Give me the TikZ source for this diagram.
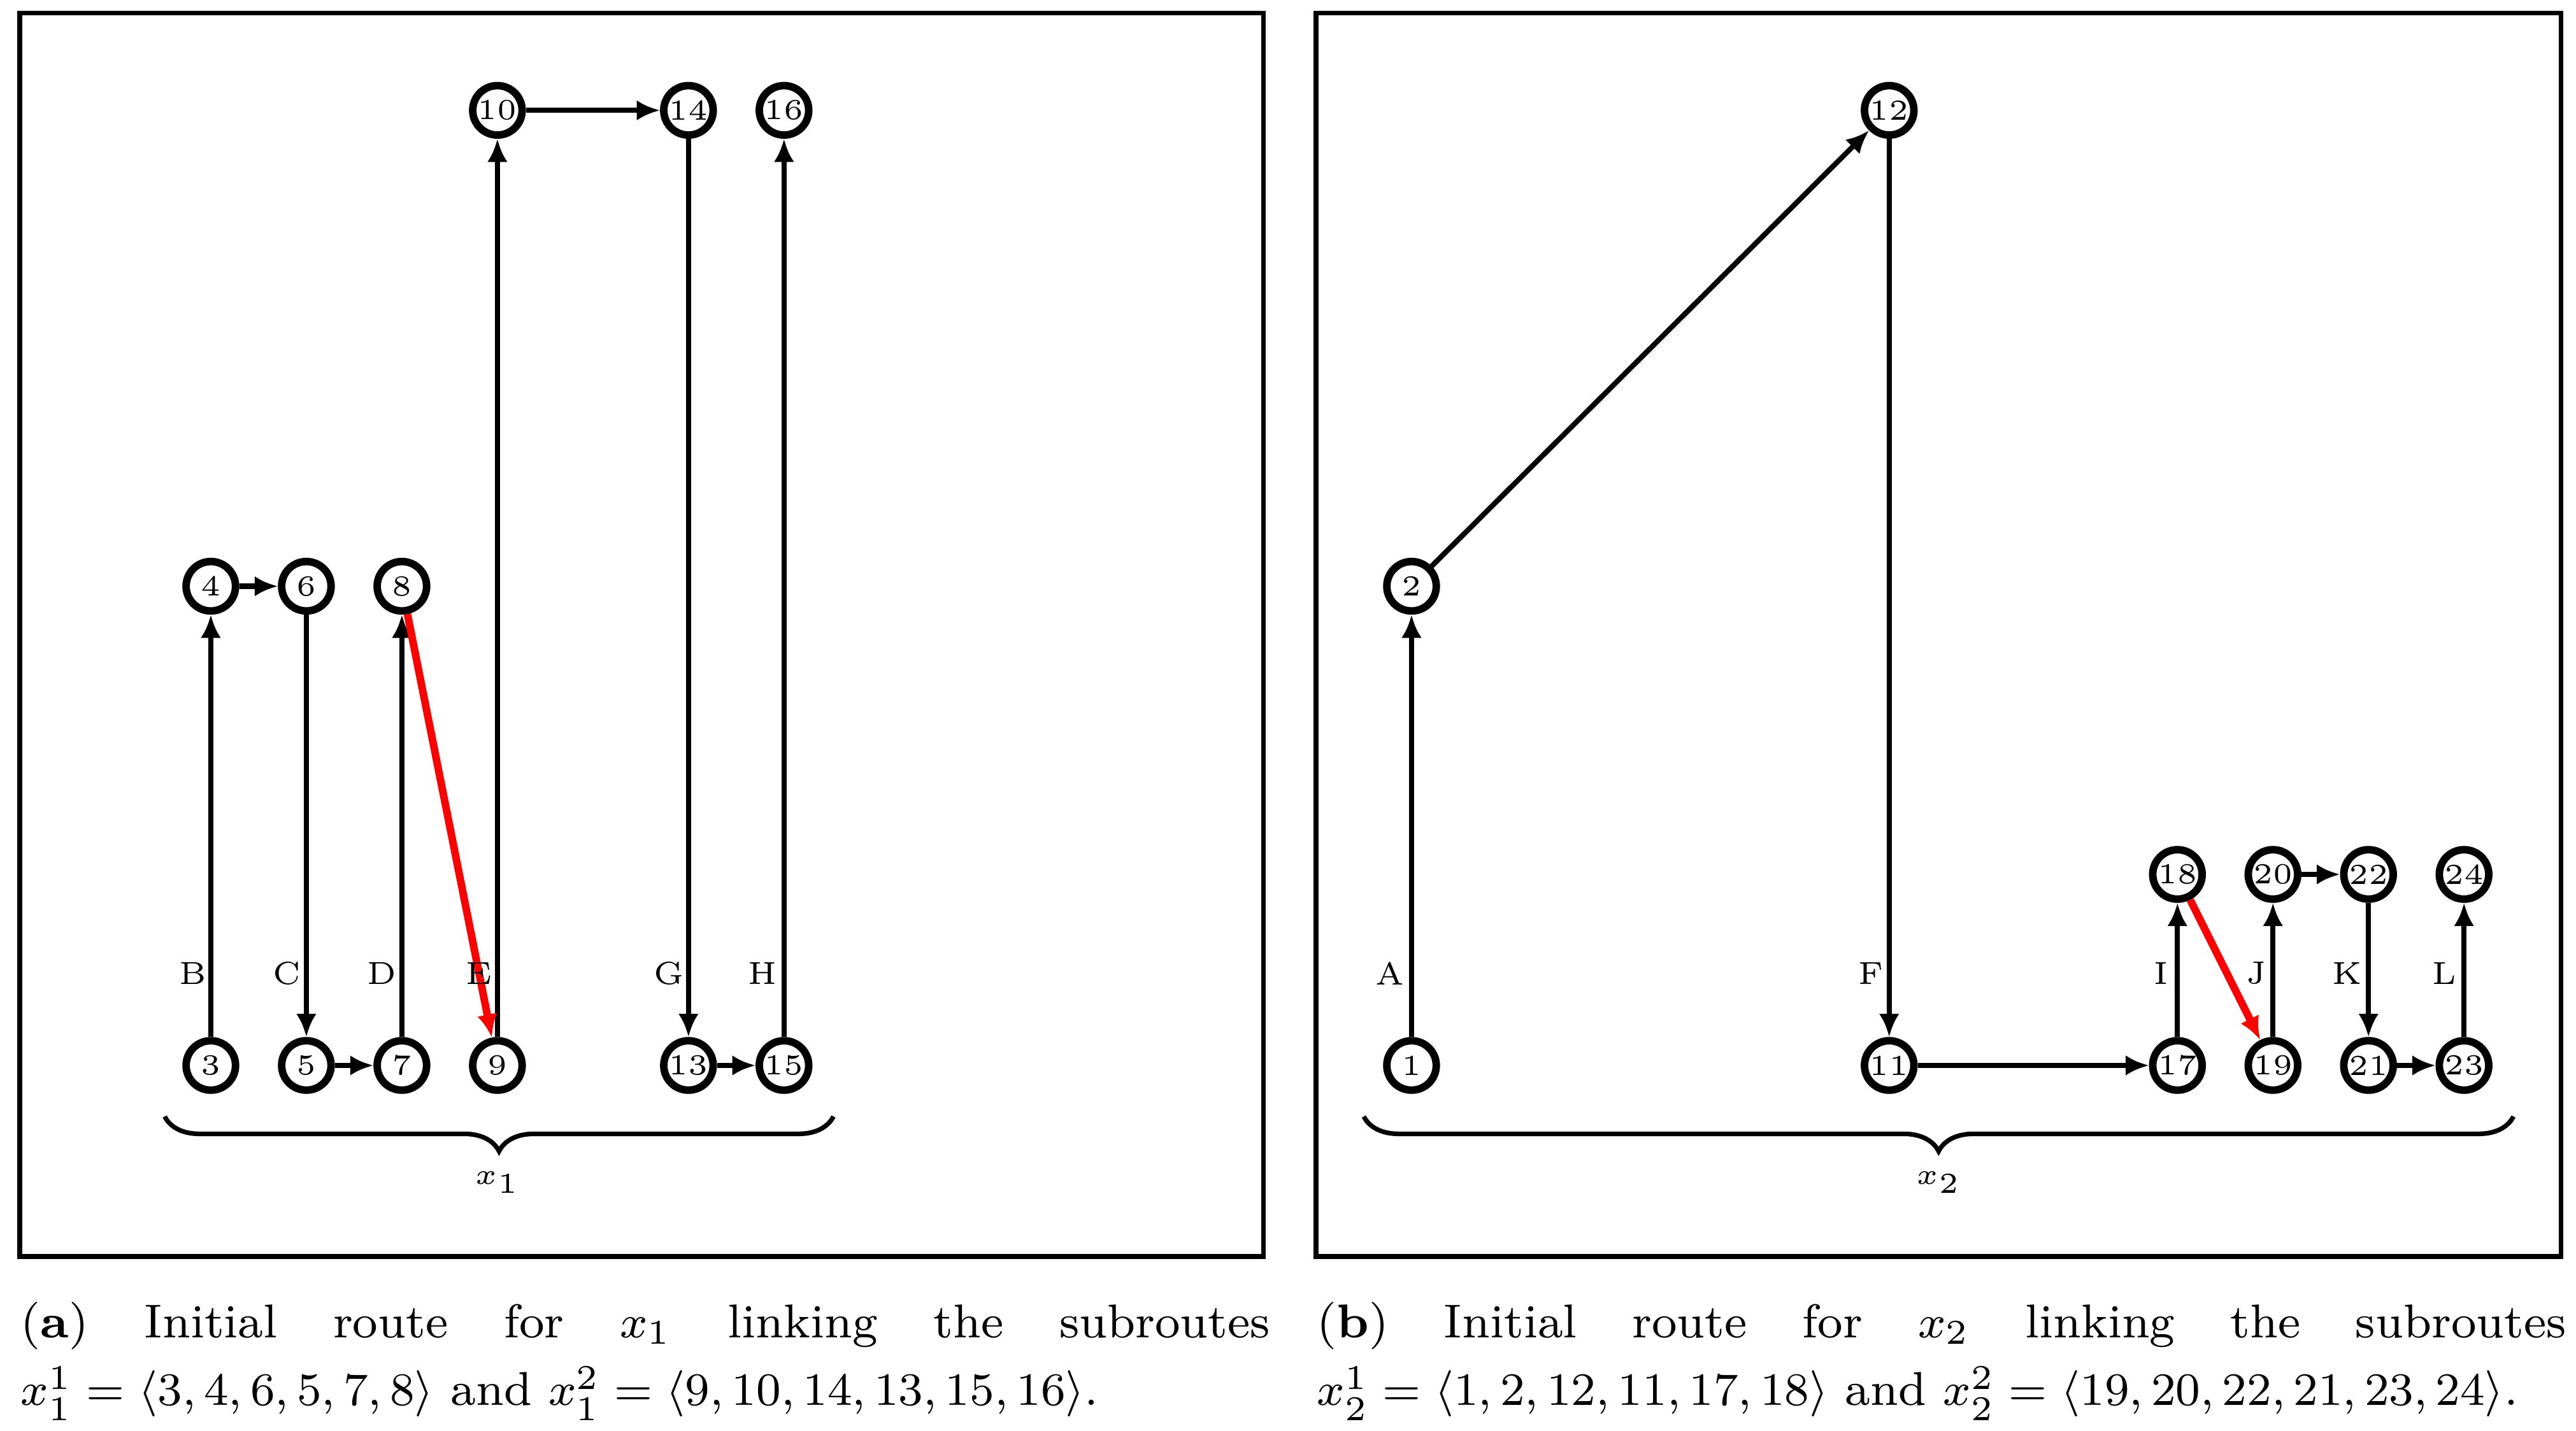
\documentclass[tikz,border=0pt]{standalone}
\usetikzlibrary{arrows.meta,decorations.pathreplacing}
\begin{document}
\begin{tikzpicture}[x=0.01cm,y=-0.01cm,
  v/.style={circle,draw,line width=1.3pt,minimum size=0.3cm,inner sep=0pt,font=\fontsize{5}{6}\selectfont,fill=white},
  e/.style={line width=0.9pt,-{Latex[length=4pt,width=3.5pt]}},
  r/.style={e,red,line width=1.3pt},
  lab/.style={font=\fontsize{5.5}{6}\selectfont},
  box/.style={draw,line width=0.8pt},
  br/.style={decorate,decoration={brace,mirror,amplitude=6pt},line width=0.8pt},
  captxt/.style={text width=7.58cm,align=justify,inner sep=0pt,anchor=north west,font=\fontsize{8.2}{11.7}\selectfont}]
\useasboundingbox (0,0) rectangle (1564,869);
\draw[box] (12,8) rectangle (767,763);
\draw[box] (799,8) rectangle (1555,763);
% left
\foreach \n/\x/\y in {3/128/647,4/128/356,6/186/356,5/186/647,7/244/647,8/244/356,9/302/647,10/302/67,14/418/67,13/418/647,15/476/647,16/476/67}
  \node[v] (n\n) at (\x,\y) {\n};
\foreach \a/\b in {3/4,4/6,6/5,5/7,7/8,9/10,10/14,14/13,13/15,15/16}
  \draw[e] (n\a) -- (n\b);
\draw[r] (n8) -- (n9);
\foreach \t/\x in {B/117,C/174,D/232,E/291,G/406,H/463}
  \node[lab] (l\t) at (\x,591) {\t};
\coordinate (b1s) at (100,678); \coordinate (b1e) at (506,678);
\draw[br] (b1s) -- (b1e);
\node[lab] (x1) at (302,718) {$x_1$};
% right
\foreach \n/\x/\y in {1/857/647,2/857/356,12/1147/67,11/1147/647,17/1322/647,18/1322/531,19/1380/647,20/1380/531,22/1438/531,21/1438/647,23/1496/647,24/1496/531}
  \node[v] (n\n) at (\x,\y) {\n};
\foreach \a/\b in {1/2,2/12,12/11,11/17,17/18,19/20,20/22,22/21,21/23,23/24}
  \draw[e] (n\a) -- (n\b);
\draw[r] (n18) -- (n19);
\foreach \t/\x in {A/844,F/1136,I/1312,J/1370,K/1425,L/1484}
  \node[lab] (l\t) at (\x,591) {\t};
\coordinate (b2s) at (828,678); \coordinate (b2e) at (1526,678);
\draw[br] (b2s) -- (b2e);
\node[lab] (x2) at (1177,718) {$x_2$};
% captions
\node[captxt] (ca) at (12,790) {(\textbf{a})\hfill Initial\hfill route\hfill for\hfill $x_1$\hfill linking\hfill the\hfill subroutes\\ $x_1^1=\langle 3,4,6,5,7,8\rangle$ and $x_1^2=\langle 9,10,14,13,15,16\rangle$.};
\node[captxt] (cb) at (799,790) {(\textbf{b})\hfill Initial\hfill route\hfill for\hfill $x_2$\hfill linking\hfill the\hfill subroutes\\ $x_2^1=\langle 1,2,12,11,17,18\rangle$ and $x_2^2=\langle 19,20,22,21,23,24\rangle$.};
\end{tikzpicture}
\end{document}
